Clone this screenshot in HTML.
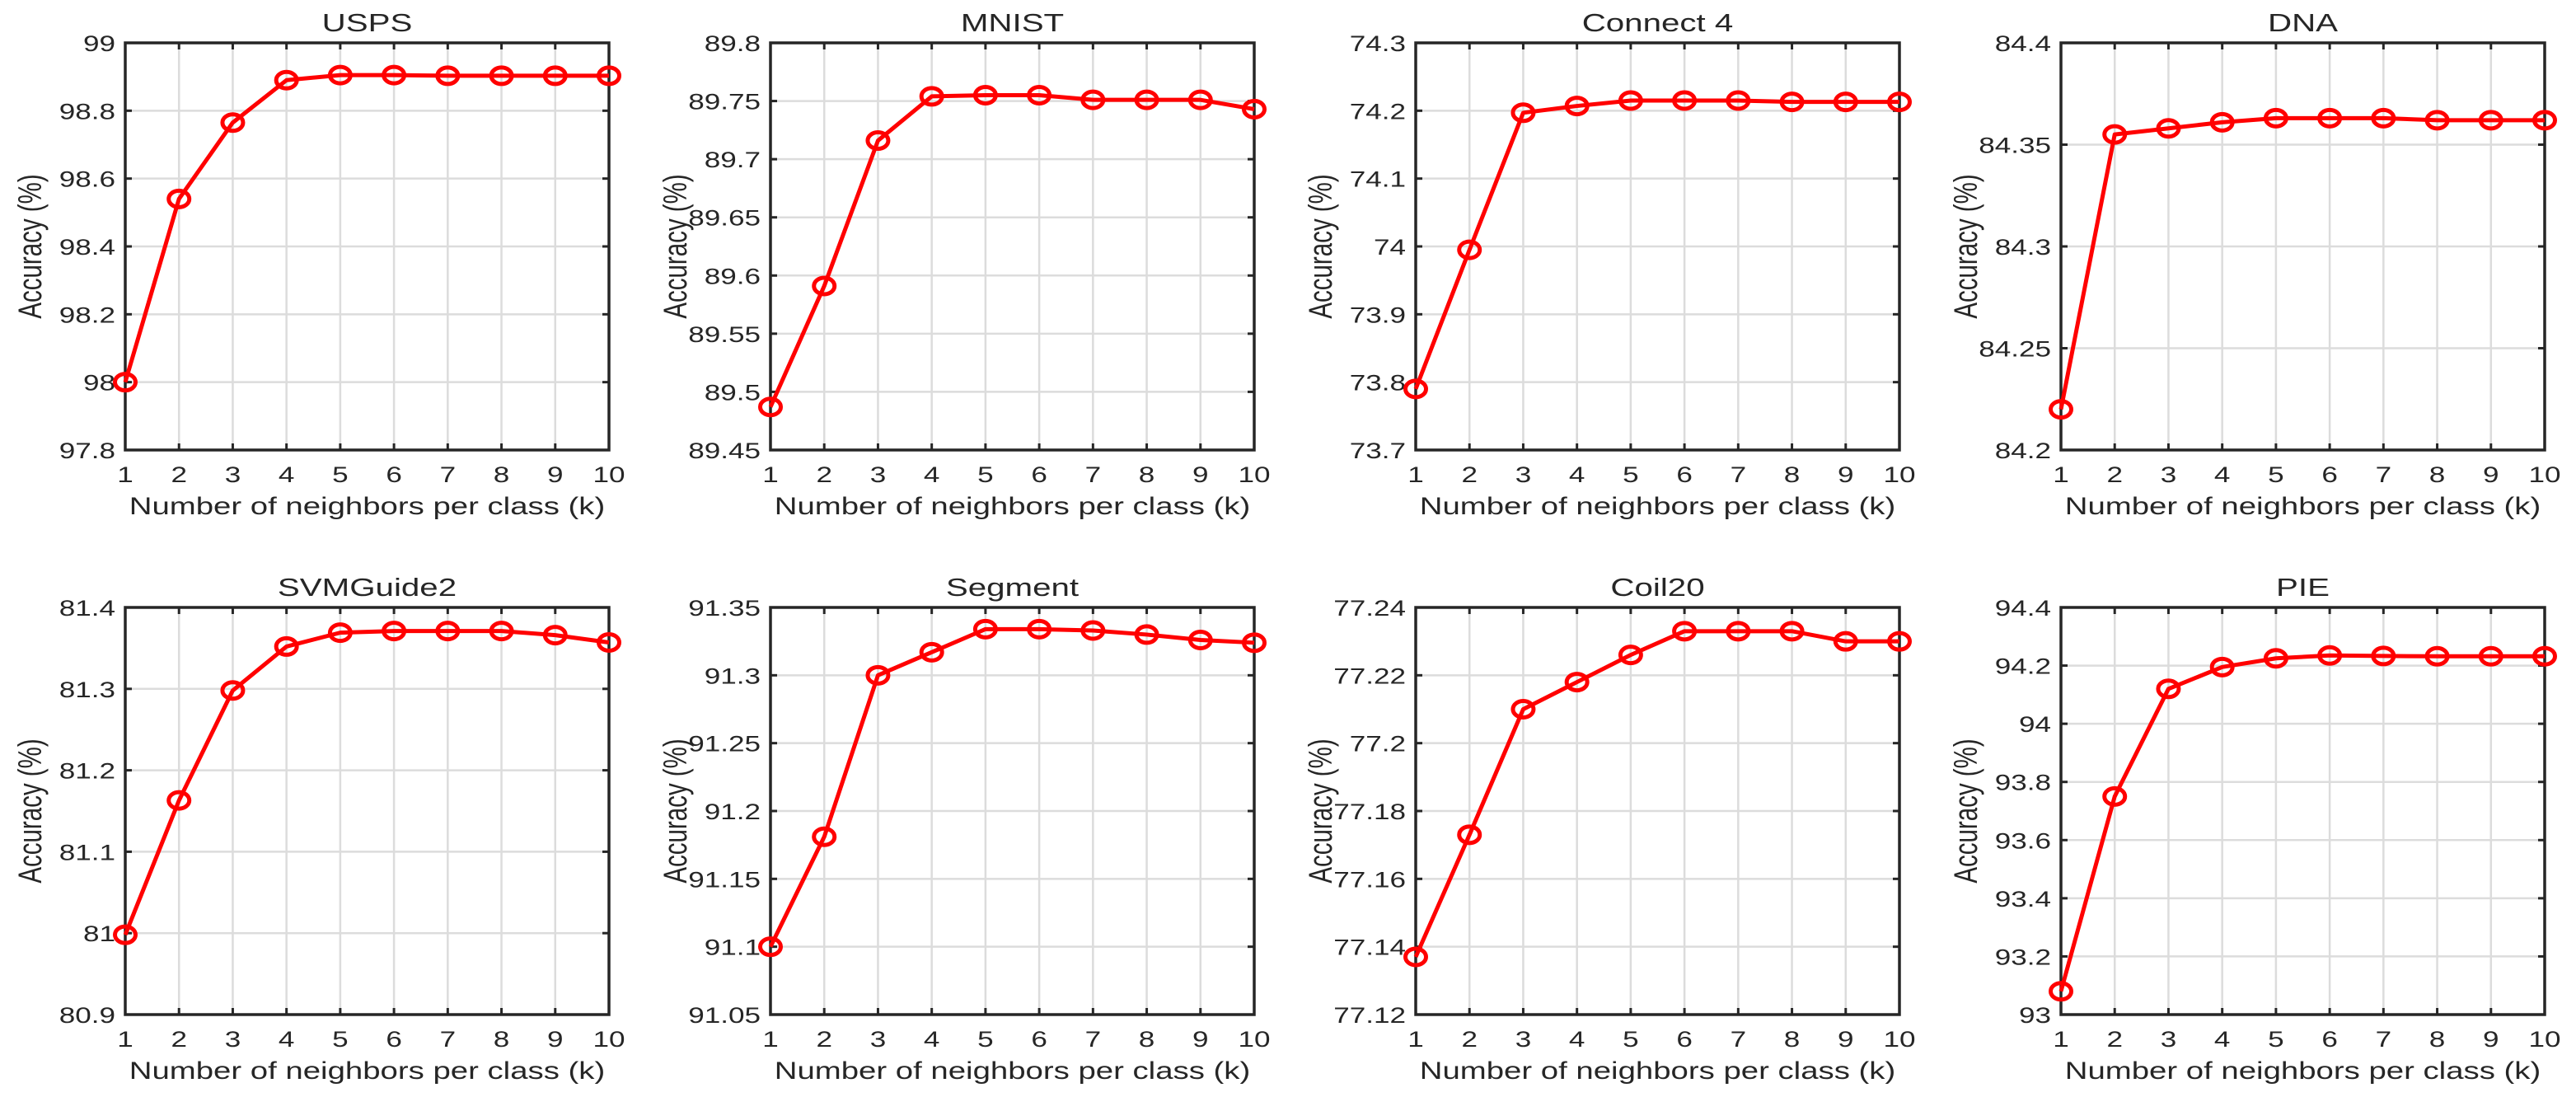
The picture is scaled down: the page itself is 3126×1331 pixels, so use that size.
<!DOCTYPE html>
<html><head><meta charset="utf-8"><style>
html,body{margin:0;padding:0;background:#fff;}
svg{display:block;}
text{font-family:"Liberation Sans",Arial,sans-serif;fill:#262626;}
</style></head><body>
<svg id="fig" width="3126" height="1331" viewBox="0 0 3126 1331" xmlns="http://www.w3.org/2000/svg"></svg>
<script>
const xCategories = [1,2,3,4,5,6,7,8,9,10];
const titles = ["USPS","MNIST","Connect 4","DNA","SVMGuide2","Segment","Coil20","PIE"];
const uspsValues = [98.0,98.54,98.765,98.89,98.905,98.905,98.903,98.903,98.903,98.903];
const mnistValues = [89.487,89.591,89.716,89.754,89.755,89.755,89.751,89.751,89.751,89.743];
const connect4Values = [73.79,73.995,74.197,74.207,74.215,74.215,74.215,74.213,74.213,74.213];
const dnaValues = [84.22,84.355,84.358,84.361,84.363,84.363,84.363,84.362,84.362,84.362];
const svmguide2Values = [80.998,81.163,81.298,81.352,81.369,81.371,81.371,81.371,81.366,81.357];
const segmentValues = [91.10,91.181,91.30,91.317,91.334,91.334,91.333,91.330,91.326,91.324];
const coil20Values = [77.137,77.173,77.210,77.218,77.226,77.233,77.233,77.233,77.230,77.230];
const pieValues = [93.08,93.75,94.12,94.195,94.225,94.235,94.233,94.232,94.232,94.232];
const uspsTicks = ["97.8","98","98.2","98.4","98.6","98.8","99"];
const mnistTicks = ["89.45","89.5","89.55","89.6","89.65","89.7","89.75","89.8"];
const connect4Ticks = ["73.7","73.8","73.9","74","74.1","74.2","74.3"];
const dnaTicks = ["84.2","84.25","84.3","84.35","84.4"];
const svmguide2Ticks = ["80.9","81","81.1","81.2","81.3","81.4"];
const segmentTicks = ["91.05","91.1","91.15","91.2","91.25","91.3","91.35"];
const coil20Ticks = ["77.12","77.14","77.16","77.18","77.2","77.22","77.24"];
const pieTicks = ["93","93.2","93.4","93.6","93.8","94","94.2","94.4"];

const seriesList = [uspsValues,mnistValues,connect4Values,dnaValues,svmguide2Values,segmentValues,coil20Values,pieValues];
const tickList = [uspsTicks,mnistTicks,connect4Ticks,dnaTicks,svmguide2Ticks,segmentTicks,coil20Ticks,pieTicks];
const slugs = ["usps","mnist","connect-4","dna","svmguide2","segment","coil20","pie"];

const NS = "http://www.w3.org/2000/svg";
const svg = document.getElementById("fig");
const colLeft = [152,935,1718,2501];
const rowTop = [52,737];
const PW = 587, PH = 494, SX = 1.3;

function mk(tag, attrs, parent){
  const e = document.createElementNS(NS, tag);
  for (const k in attrs) e.setAttribute(k, attrs[k]);
  parent.appendChild(e);
  return e;
}
function txt(parent, x, y, s, size, anchor, rot, sx){
  const k = sx || SX;
  const t = mk("text", {"font-size":size, "text-anchor":anchor,
    transform:"translate("+x+","+y+") scale("+k+",1)"+(rot?" rotate(-90)":"")}, parent);
  t.textContent = s;
  return t;
}

for (let i=0;i<8;i++){
  const L = colLeft[i%4], T = rowTop[Math.floor(i/4)], R = L+PW, B = T+PH;
  const ticks = tickList[i], vals = seriesList[i];
  const yMin = parseFloat(ticks[0]), yMax = parseFloat(ticks[ticks.length-1]);
  const xs = k => L + (k-1)/(xCategories.length-1)*PW;
  const ys = v => B - (v-yMin)/(yMax-yMin)*PH;

  const g = mk("g", {}, svg);
  
  

  const grid = mk("g", {stroke:"#dcdcdc","stroke-width":2.5}, g);
  
  
  xCategories.forEach(k => mk("line",{x1:xs(k),x2:xs(k),y1:T,y2:B},grid));
  ticks.forEach(s => { const y=ys(parseFloat(s)); mk("line",{x1:L,x2:R,y1:y,y2:y},grid); });

  const tk = mk("g", {stroke:"#262626","stroke-width":3}, g);
  xCategories.forEach(k => { const x=xs(k);
    mk("line",{x1:x,x2:x,y1:B,y2:B-8},tk); mk("line",{x1:x,x2:x,y1:T,y2:T+8},tk); });
  ticks.forEach(s => { const y=ys(parseFloat(s));
    mk("line",{x1:L,x2:L+8,y1:y,y2:y},tk); mk("line",{x1:R,x2:R-8,y1:y,y2:y},tk); });

  const box = mk("rect",{x:L,y:T,width:PW,height:PH,fill:"none",stroke:"#262626","stroke-width":3.5},g);
  
  

  ticks.forEach(s => {
    const t = txt(g, L-12, ys(parseFloat(s))+10, s, 27, "end");
    
    
  });
  xCategories.forEach(k => {
    const t = txt(g, xs(k), B+39, String(k), 27, "middle");
    
    
  });
  const xl = txt(g, L+PW/2, B+78, "Number of neighbors per class (k)", 29.5, "middle");
  
  
  const yl = txt(g, L-102, T+PH/2, "Accuracy (%)", 29.5, "middle", true, 1.35);
  
  
  const ti = txt(g, L+PW/2, T-14, titles[i], 31, "middle");
  
  

  const pts = vals.map((v,j) => xs(xCategories[j])+","+ys(v)).join(" ");
  const line = mk("polyline",{points:pts,fill:"none",stroke:"#ff0000","stroke-width":5,"stroke-linejoin":"round"},g);
  
  
  vals.forEach((v,j) => {
    const c = mk("ellipse",{cx:xs(xCategories[j]),cy:ys(v),rx:12.5,ry:10,fill:"none",stroke:"#ff0000","stroke-width":5},g);
    
    
  });
}
</script>
</body></html>
